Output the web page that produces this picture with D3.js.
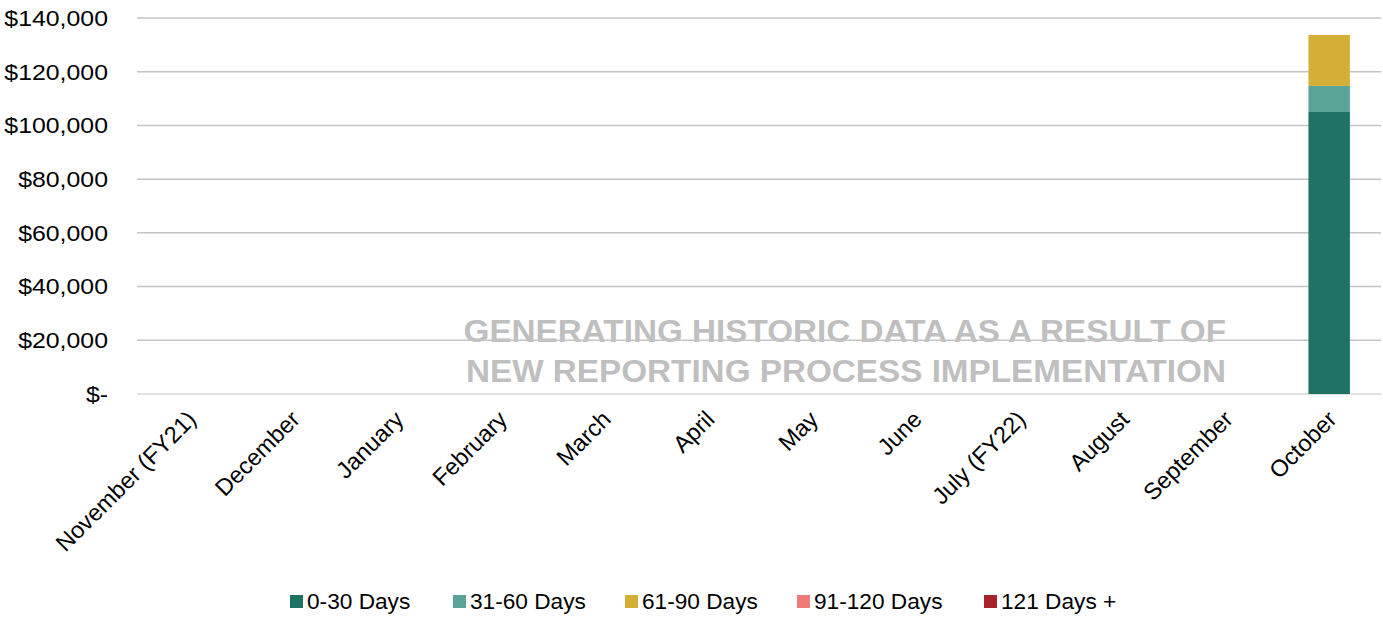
<!DOCTYPE html>
<html>
<head>
<meta charset="utf-8">
<script src="https://cdn.jsdelivr.net/npm/d3@7"></script>
<style>
  body { margin: 0; background: #fff; }
  svg { font-family: "Liberation Sans", Arial, sans-serif; }
</style>
</head>
<body>
<svg id="chart" width="1383" height="617"></svg>
<script>
// Months on the x axis
const months = ["November (FY21)", "December", "January", "February", "March", "April",
  "May", "June", "July (FY22)", "August", "September", "October"];

// Aging buckets (series)
const buckets = ["0-30 Days", "31-60 Days", "61-90 Days", "91-120 Days", "121 Days +"];
const colors = ["#1f7264", "#5aa397", "#d4af37", "#f07a7a", "#a8232a"];

// Values per bucket, one per month (only October has data)
const days0to30 = [0, 0, 0, 0, 0, 0, 0, 0, 0, 0, 0, 105000];
const days31to60 = [0, 0, 0, 0, 0, 0, 0, 0, 0, 0, 0, 9700];
const days61to90 = [0, 0, 0, 0, 0, 0, 0, 0, 0, 0, 0, 19000];
const days91to120 = [0, 0, 0, 0, 0, 0, 0, 0, 0, 0, 0, 0];
const days121plus = [0, 0, 0, 0, 0, 0, 0, 0, 0, 0, 0, 0];

const yTicks = [0, 20000, 40000, 60000, 80000, 100000, 120000, 140000];

const watermark = ["GENERATING HISTORIC DATA AS A RESULT OF", "NEW REPORTING PROCESS IMPLEMENTATION"];

const svg = d3.select("#chart");
const margin = { top: 18, right: 2, bottom: 223, left: 137 };
const width = 1383 - margin.left - margin.right;
const height = 617 - margin.top - margin.bottom;

const g = svg.append("g").attr("transform", `translate(${margin.left},${margin.top})`);

// build rows for the stack
const series = [days0to30, days31to60, days61to90, days91to120, days121plus];
const rows = months.map((m, i) => {
  const r = { month: m };
  buckets.forEach((b, j) => { r[b] = series[j][i]; });
  return r;
});
const stacked = d3.stack().keys(buckets)(rows);

const x = d3.scaleBand().domain(months).range([0, width]).paddingInner(0.6).paddingOuter(0.3);
const y = d3.scaleLinear().domain([0, 140000]).range([height, 0]);

// watermark text (sits under the gridlines)
g.selectAll(".wm")
  .data(watermark)
  .enter()
  .append("text")
  .attr("transform", (d, i) => `translate(${1226 - margin.left},${342 - margin.top + i * 40}) scale(1.04,1)`)
  .attr("text-anchor", "end")
  .style("font-weight", "bold")
  .style("font-size", "32px")
  .style("fill", "#bfbfbf")
  .text(d => d);

// gridlines
g.selectAll(".grid")
  .data(yTicks)
  .enter()
  .append("line")
  .attr("x1", 0)
  .attr("x2", width)
  .attr("y1", d => y(d))
  .attr("y2", d => y(d))
  .attr("stroke", d => d === 0 ? "#d9d9d9" : "#c4c4c4")
  .attr("stroke-width", 1.5);

// y axis labels
const fmt = d3.format(",");
g.selectAll(".ylab")
  .data(yTicks)
  .enter()
  .append("text")
  .attr("transform", d => `translate(-29,${y(d)}) scale(1.13,1)`)
  .attr("dy", "0.36em")
  .attr("text-anchor", "end")
  .style("font-size", "22px")
  .style("fill", "#000")
  .text(d => d === 0 ? "$-" : "$" + fmt(d));

// bars
g.selectAll(".layer")
  .data(stacked)
  .enter()
  .append("g")
  .attr("fill", (d, i) => colors[i])
  .selectAll("rect")
  .data(d => d)
  .enter()
  .append("rect")
  .attr("x", d => x(d.data.month))
  .attr("width", x.bandwidth())
  .attr("y", d => y(d[1]))
  .attr("height", d => y(d[0]) - y(d[1]));

// x axis labels, rotated
g.selectAll(".xlab")
  .data(months)
  .enter()
  .append("text")
  .attr("transform", d => `translate(${x(d) + x.bandwidth() / 2 + 3},${height + 21}) rotate(-45)`)
  .attr("text-anchor", "end")
  .attr("dy", "0.35em")
  .style("font-size", "23.5px")
  .style("fill", "#000")
  .text(d => d);

// legend
const legendX = [290, 453, 625, 797, 984];
const legend = svg.selectAll(".leg")
  .data(buckets)
  .enter()
  .append("g")
  .attr("transform", (d, i) => `translate(${legendX[i]},601)`);

legend.append("rect")
  .attr("x", 0)
  .attr("y", -6)
  .attr("width", 13)
  .attr("height", 13)
  .attr("fill", (d, i) => colors[i]);

legend.append("text")
  .attr("transform", "translate(17,0) scale(1.03,1)")
  .attr("dy", "0.36em")
  .style("font-size", "22px")
  .style("fill", "#000")
  .text(d => d);
</script>
</body>
</html>
